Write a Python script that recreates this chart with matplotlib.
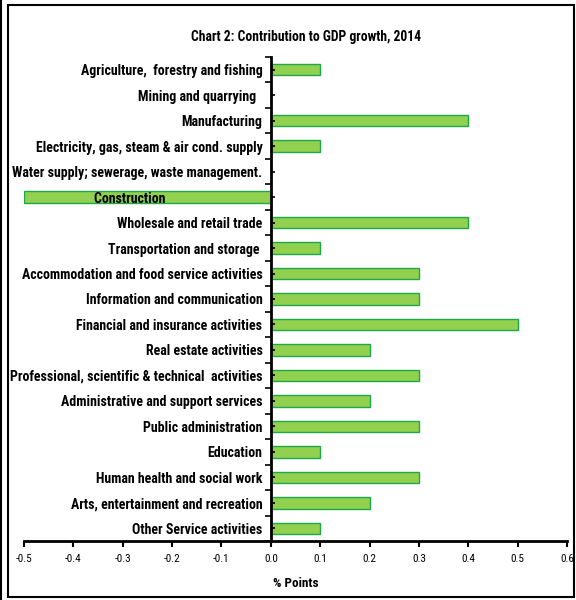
import matplotlib.pyplot as plt
from matplotlib.patches import Rectangle
from matplotlib.lines import Line2D

plt.rcParams['font.family'] = ['Roboto Condensed', 'DejaVu Sans']
plt.rcParams['font.weight'] = 'bold'

sectors = ['Agriculture,  forestry and fishing',
           'Mining and quarrying  ',
           'Manufacturing',
           'Electricity, gas, steam & air cond. supply',
           'Water supply; sewerage, waste management.',
           'Construction' + ' ' * 30,
           'Wholesale and retail trade',
           'Transportation and storage ',
           'Accommodation and food service activities',
           'Information and communication',
           'Financial and insurance activities',
           'Real estate activities',
           'Professional, scientific & technical  activities',
           'Administrative and support services',
           'Public administration',
           'Education',
           'Human health and social work',
           'Arts, entertainment and recreation',
           'Other Service activities']
contribution = [0.1, 0.0, 0.4, 0.1, 0.0, -0.5, 0.4, 0.1, 0.3, 0.3,
                0.5, 0.2, 0.3, 0.2, 0.3, 0.1, 0.3, 0.2, 0.1]
xticks = [-0.5, -0.4, -0.3, -0.2, -0.1, 0.0, 0.1, 0.2, 0.3, 0.4, 0.5, 0.6]

fig = plt.figure(figsize=(5.76, 6.0), dpi=100)
ax = fig.add_axes([24/576, 1 - 541/600, 543/576, 484/600])

pos = list(range(len(sectors)))
ax.barh(pos, contribution, height=0.45, color='#92D050', edgecolor='#1FA84A', linewidth=1)
ax.set_ylim(len(sectors) - 0.5, -0.5)
ax.set_xlim(-0.5, 0.6)

ax.set_yticks([p - 0.5 for p in pos] + [len(sectors) - 0.5])
ax.set_yticklabels([])
ax.set_yticks(pos, minor=True)
ax.set_yticklabels(sectors, minor=True, fontsize=8.3)
ax.tick_params(axis='y', which='major', direction='out', length=4, width=1.2)
ax.tick_params(axis='y', which='minor', direction='in', length=3, width=1.2, pad=6)

ax.set_xticks(xticks)
ax.set_xticklabels(['%.1f' % t for t in xticks], fontsize=8, fontweight='normal')
ax.tick_params(axis='x', direction='out', length=4, width=1.5, pad=5)

ax.spines['left'].set_position(('data', 0))
ax.spines['left'].set_linewidth(2)
ax.spines['bottom'].set_linewidth(2)
ax.spines['top'].set_visible(False)
ax.spines['right'].set_visible(False)

ax.set_xlabel('% Points', fontsize=9.5, fontweight='bold', labelpad=10)
fig.text(0.532, 1 - 37/600, 'Chart 2: Contribution to GDP growth, 2014',
         ha='center', va='center', fontsize=9.8, fontweight='bold')

fig.patches.append(Rectangle((8/576, 3/600), 566/576, 592/600, transform=fig.transFigure,
                             fill=False, edgecolor='black', linewidth=1.5))
fig.lines.append(Line2D([1/576, 1/576], [0, 1], transform=fig.transFigure,
                        color='black', linewidth=1.5))

fig.savefig('out.png', dpi=100)
